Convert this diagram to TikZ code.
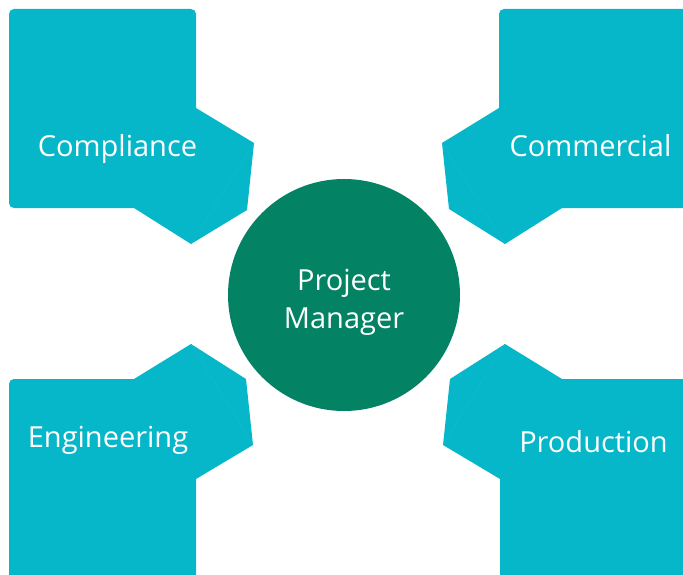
\documentclass[tikz,border=0pt]{standalone}
\usepackage{fontspec}
\setmainfont{Open Sans}
\usetikzlibrary{positioning}
\definecolor{deptteal}{HTML}{06B6C9}
\definecolor{pmgreen}{HTML}{048364}

\begin{document}
\begin{tikzpicture}[x=1pt, y=-1pt,
        dept/.style={fill=deptteal},
        seam/.style={draw=deptteal!92!white, line width=0.3pt},
        lbl/.style={text=white, font=\fontsize{29}{38}\selectfont, inner sep=0pt}]
        \useasboundingbox (0,0) rectangle (683,575);

        % Compliance
        \fill[dept, rounded corners=5] (9,9) rectangle (196,208);
        \fill[dept] (196,108) -- (254,143) -- (247,210) -- (191,244) -- (134,208) -- (134,108) -- cycle;
        \draw[seam] (254,143) -- (191,244);

        % Commercial
        \fill[dept, rounded corners=5] (499,9) rectangle (690,208);
        \fill[dept] (499,108) -- (442,143) -- (449,209) -- (505,244) -- (562,208) -- (562,108) -- cycle;
        \draw[seam] (442,143) -- (505,244);

        % Engineering
        \fill[dept, rounded corners=5] (9,379) rectangle (196,590);
        \fill[dept] (134,379) -- (191,344) -- (246,379) -- (253,445) -- (196,479) -- (134,479) -- cycle;
        \draw[seam] (191,344) -- (253,445);

        % Production
        \fill[dept, rounded corners=5] (500,379) rectangle (690,590);
        \fill[dept] (562,379) -- (505,344) -- (450,379) -- (443,445) -- (500,479) -- (562,479) -- cycle;
        \draw[seam] (505,344) -- (443,445);

        \node [circle, fill=pmgreen, minimum size=232pt, inner sep=0pt] (pm) at (344,295) {};
        \node [lbl, align=center] (pmlbl) at (344,302) {Project\\Manager};

        \node [lbl, anchor=base] (compliance) at (117.5,157) {Compliance};
        \node [lbl, anchor=base] (commercial) at (590.5,157) {Commercial};
        \node [lbl, anchor=base] (engineering) at (108,447) {Engineering};
        \node [lbl, anchor=base] (production) at (593.5,452) {Production};
    \end{tikzpicture}
\end{document}
